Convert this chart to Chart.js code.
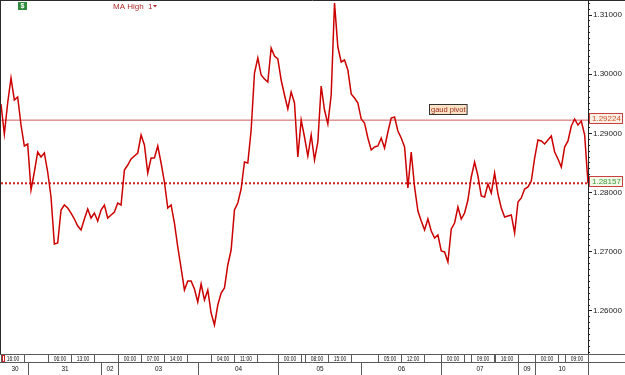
<!DOCTYPE html>
<html>
<head>
<meta charset="utf-8">
<script src="https://cdn.jsdelivr.net/npm/chart.js@4.4.0/dist/chart.umd.min.js"></script>
<style>
  html, body { margin: 0; padding: 0; background: #fff; }
  #wrap { width: 625px; height: 375px; }
</style>
</head>
<body>
<div id="wrap"><canvas id="c" width="625" height="375"></canvas></div>
<script>
// hourly closes, bar 0 = 30th 16:00
const closes = [
  1.29497, 1.28990, 1.29514, 1.29936, 1.29564, 1.29615, 1.29142, 1.28787, 1.28821, 1.28044,
  1.28348, 1.28686, 1.28601, 1.28669, 1.28348, 1.27926, 1.27132, 1.27149, 1.27706, 1.27791,
  1.27740, 1.27655, 1.27554, 1.27436, 1.27368, 1.27554, 1.27723, 1.27571, 1.27655, 1.27520,
  1.27706, 1.27791, 1.27571, 1.27622, 1.27672, 1.27824, 1.27791, 1.28382, 1.28466, 1.28568,
  1.28618, 1.28669, 1.28973, 1.28804, 1.28331, 1.28584, 1.28584, 1.28787, 1.28500, 1.28179,
  1.27740, 1.27791, 1.27486, 1.27081, 1.26726, 1.26355, 1.26507, 1.26507, 1.26372, 1.26152,
  1.26456, 1.26186, 1.26355, 1.25966, 1.25764, 1.26101, 1.26304, 1.26389, 1.26777, 1.27030,
  1.27706, 1.27824, 1.28061, 1.28517, 1.28500, 1.29057, 1.30020, 1.30274, 1.29986, 1.29919,
  1.29868, 1.30443, 1.30307, 1.30257, 1.29902, 1.29649, 1.29412, 1.29699, 1.29514, 1.28601,
  1.29226, 1.28939, 1.28618, 1.28973, 1.28551, 1.28855, 1.29801, 1.29395, 1.29159, 1.29649,
  1.31203, 1.30459, 1.30206, 1.30240, 1.30071, 1.29666, 1.29598, 1.29514, 1.29243, 1.29176,
  1.28922, 1.28720, 1.28770, 1.28787, 1.28922, 1.28753, 1.29024, 1.29260, 1.29277, 1.29041,
  1.28922, 1.28770, 1.28078, 1.28686, 1.28095, 1.27689, 1.27520, 1.27368, 1.27554, 1.27351,
  1.27233, 1.27284, 1.27014, 1.26997, 1.26828, 1.27385, 1.27486, 1.27757, 1.27554, 1.27655,
  1.27875, 1.28264, 1.28517, 1.28280, 1.27943, 1.27926, 1.28145, 1.27993, 1.28331, 1.27976,
  1.27740, 1.27588, 1.27605, 1.27622, 1.27318, 1.27841, 1.27909, 1.28061, 1.28095, 1.28196,
  1.28584, 1.28889, 1.28872, 1.28821, 1.28889, 1.28956, 1.28686, 1.28568, 1.28432, 1.28770,
  1.28872, 1.29125, 1.29243, 1.29142, 1.29209, 1.28973, 1.28157
];
const lastBar = closes.length - 1;

const pivotLevel = 1.29224;   // "gaud pivot"
const lastLevel = 1.28157;    // current price
const pivotName = "gaud pivot";
const pivotBar = 129;

const yTicks = [1.26, 1.27, 1.28, 1.29, 1.30, 1.31];
const yMin = 1.252736, yMax = 1.312365;

const hourBars   = [0, 14, 21, 35, 42, 49, 63, 70, 83, 91, 98, 113, 120, 132, 141, 148, 160, 169];
const hourLabels = ["16:00","06:00","13:00","00:00","07:00","14:00","04:00","11:00","00:00","08:00",
                    "15:00","05:00","12:00","00:00","09:00","16:00","00:00","09:00"];
const dayBars    = [0, 8, 30, 35, 59, 83, 108, 132, 155, 160];
const dayLabels  = ["30","31","02","03","04","05","06","07","09","10"];

const FONT = "Liberation Sans, Arial, sans-serif";

// frame, header, time strip and price tags
const chrome = {
  id: "chrome",
  afterDraw(chart){
    const {ctx, chartArea: a, scales: {x, y}} = chart;
    const W = chart.width, H = chart.height;
    ctx.save();

    // frame
    ctx.strokeStyle = "#2b2b2b"; ctx.lineWidth = 1;
    ctx.beginPath();
    ctx.moveTo(0.5, 0); ctx.lineTo(0.5, a.bottom);
    ctx.moveTo(0, 0.5); ctx.lineTo(W, 0.5);
    ctx.stroke();

    // header
    ctx.fillStyle = "#2f8a3c";
    ctx.fillRect(18, 2, 9, 8);
    ctx.fillStyle = "#fff";
    ctx.font = "bold 7px " + FONT;
    ctx.textAlign = "center"; ctx.textBaseline = "middle";
    ctx.fillText("$", 22.5, 6.5);
    ctx.fillStyle = "#b12a2a";
    ctx.font = "8px " + FONT;
    ctx.textAlign = "left";
    ctx.fillText("MA High  1", 113, 6.5);
    ctx.beginPath(); ctx.moveTo(153, 5); ctx.lineTo(157, 5); ctx.lineTo(155, 7.5); ctx.closePath(); ctx.fill();

    // time strip
    const t1 = a.bottom + 0.5, t2 = a.bottom + 8.5, t3 = H;
    ctx.strokeStyle = "#5a5a5a";
    ctx.beginPath();
    ctx.moveTo(0, t1); ctx.lineTo(W, t1);
    ctx.moveTo(0, t2); ctx.lineTo(W, t2);
    ctx.moveTo(a.right + 0.5, t1); ctx.lineTo(a.right + 0.5, t3);
    ctx.stroke();

    ctx.fillStyle = "#111";
    ctx.textBaseline = "middle"; ctx.textAlign = "center";
    const boxW = 23;
    hourLabels.forEach((lab, i) => {
      const px = Math.round(x.getPixelForValue(hourBars[i])) + 0.5;
      ctx.beginPath();
      ctx.moveTo(px, t1); ctx.lineTo(px, t2);
      ctx.moveTo(px + boxW, t1); ctx.lineTo(px + boxW, t2);
      ctx.stroke();
      ctx.save();
      ctx.translate(px + boxW / 2, (t1 + t2) / 2 + 0.5);
      ctx.scale(0.62, 1);
      ctx.font = "8px " + FONT;
      ctx.fillText(lab, 0, 0);
      ctx.restore();
    });
    // first-bar marker
    ctx.strokeStyle = "#d02020";
    ctx.strokeRect(2.5, t1 + 1, 2, 6);
    ctx.strokeStyle = "#5a5a5a";

    dayLabels.forEach((lab, i) => {
      const px = Math.round(x.getPixelForValue(dayBars[i])) + 0.5;
      const nx = i + 1 < dayBars.length ? Math.round(x.getPixelForValue(dayBars[i + 1])) + 0.5 : a.right + 0.5;
      if (i > 0) { ctx.beginPath(); ctx.moveTo(px, t2); ctx.lineTo(px, t3); ctx.stroke(); }
      ctx.save();
      ctx.translate((px + nx) / 2, (t2 + t3) / 2 + 0.5);
      ctx.scale(0.8, 1);
      ctx.font = "8px " + FONT;
      ctx.fillText(lab, 0, 0);
      ctx.restore();
    });

    // price tags on the axis
    const tag = (val, fill, color) => {
      const py = Math.round(y.getPixelForValue(val));
      ctx.fillStyle = fill;
      ctx.fillRect(589, py - 6, 33, 10);
      ctx.strokeStyle = "#c94040";
      ctx.strokeRect(589.5, py - 6.5, 33, 10);
      ctx.fillStyle = color;
      ctx.font = "8px " + FONT;
      ctx.textAlign = "left";
      ctx.fillText(val.toFixed(5), 592, py - 1);
    };
    tag(pivotLevel, "#fcefe6", "#cf5028");
    tag(lastLevel, "#f3f9e8", "#3c9a3c");

    // pivot name label
    const lx = Math.round(x.getPixelForValue(pivotBar)) - 1.5;
    const ly = Math.round(y.getPixelForValue(pivotLevel)) - 15.5;
    ctx.font = "7.5px " + FONT;
    const tw = ctx.measureText(pivotName).width;
    ctx.fillStyle = "#fde3c6";
    ctx.fillRect(lx, ly, tw + 3, 10);
    ctx.strokeStyle = "#333";
    ctx.strokeRect(lx, ly, tw + 3, 10);
    ctx.fillStyle = "#9a2a1a";
    ctx.textAlign = "left";
    ctx.fillText(pivotName, lx + 1.5, ly + 5.5);

    ctx.restore();
  }
};

const noPad = s => { s.paddingTop = 0; s.paddingBottom = 0; };

new Chart(document.getElementById("c"), {
  type: "line",
  data: {
    datasets: [
      {
        data: closes.map((v, i) => ({x: i, y: v})),
        borderColor: "#cc0000", borderWidth: 1.5, pointRadius: 0, tension: 0, order: 0
      },
      {
        data: [{x: 0, y: pivotLevel}, {x: lastBar, y: pivotLevel}],
        borderColor: "#d05a5a", borderWidth: 1, pointRadius: 0, order: 2
      },
      {
        data: [{x: 0, y: lastLevel}, {x: lastBar, y: lastLevel}],
        borderColor: "#d01c1c", borderWidth: 2, borderDash: [2, 2], pointRadius: 0, order: 1
      }
    ]
  },
  options: {
    responsive: false,
    animation: false,
    devicePixelRatio: 1,
    layout: { padding: { left: 1, top: 1, right: 0, bottom: 21 } },
    plugins: { legend: { display: false }, tooltip: { enabled: false } },
    scales: {
      x: { type: "linear", min: 0, max: lastBar, display: false },
      yMinor: {
        position: "right", min: yMin, max: yMax, weight: 0,
        afterBuildTicks: s => {
          const t = [];
          for (let k = Math.ceil(yMin * 1000); k <= Math.floor(yMax * 1000); k++) t.push({value: k / 1000});
          s.ticks = t;
        },
        afterFit: s => { s.width = 0; noPad(s); },
        grid: { drawOnChartArea: false, tickLength: 2, color: "#222" },
        border: { display: true, color: "#222" },
        ticks: { display: false }
      },
      y: {
        position: "right", min: yMin, max: yMax, weight: 1,
        afterBuildTicks: s => { s.ticks = yTicks.map(v => ({value: v})); },
        afterFit: s => { s.width = 37; noPad(s); },
        grid: { drawOnChartArea: false, tickLength: 4, color: "#222" },
        border: { display: true, color: "#222" },
        ticks: { padding: 1, color: "#1a1a1a", font: { family: FONT, size: 8 }, callback: v => v.toFixed(5) }
      }
    }
  },
  plugins: [chrome]
});
</script>
</body>
</html>
